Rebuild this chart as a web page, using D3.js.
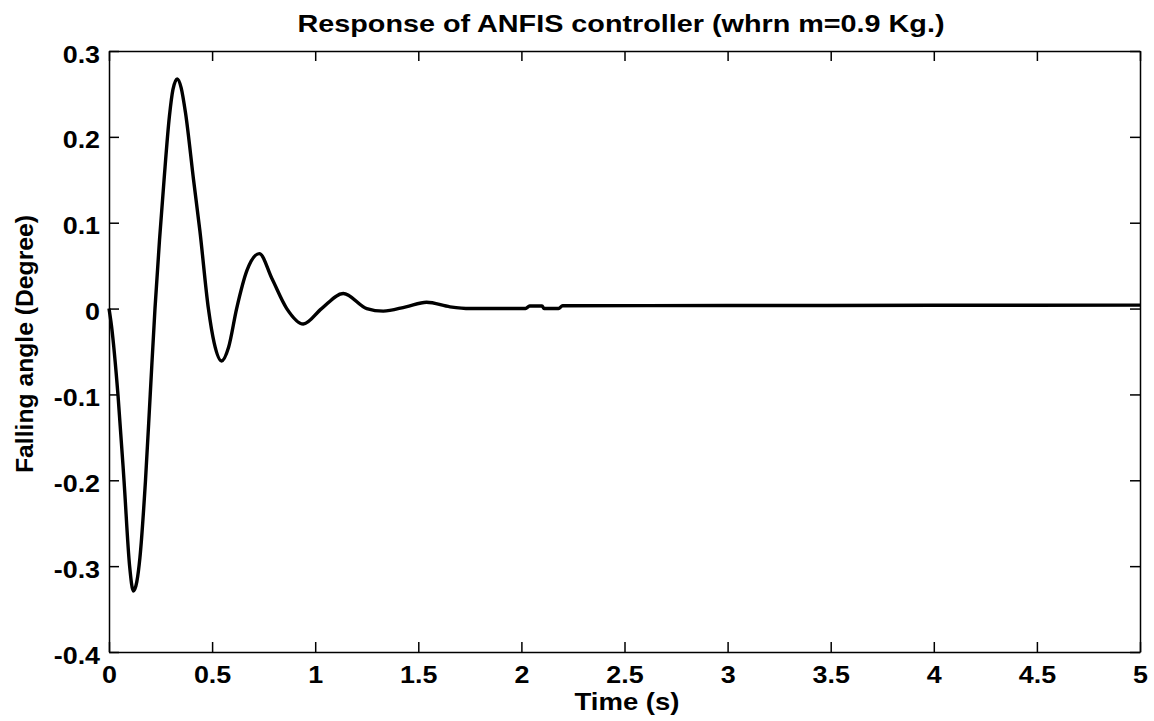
<!DOCTYPE html>
<html>
<head>
<meta charset="utf-8">
<script src="https://cdn.jsdelivr.net/npm/d3@7"></script>
<style>
    body { margin: 0; background: #fff; }
    svg { display: block; font-family: "Liberation Sans", Arial, sans-serif; font-weight: bold; }
</style>
</head>
<body>
<svg id="chart" width="1154" height="721"></svg>
<script>
// response
const timeS = [0, 0.012, 0.044, 0.073, 0.1, 0.118, 0.135, 0.15, 0.177, 0.2, 0.223, 0.245, 0.267, 0.293, 0.31, 0.331,
    0.35, 0.371, 0.41, 0.441, 0.482, 0.51, 0.546, 0.58, 0.619, 0.67, 0.729, 0.79, 0.862, 0.942, 1.031, 1.136, 1.25,
    1.33, 1.44, 1.54, 1.654, 1.75, 2.02, 2.04, 2.1, 2.11, 2.18, 2.2, 3, 4, 5];
const angleDeg = [0, -0.02, -0.102, -0.201, -0.3, -0.329, -0.318, -0.29, -0.2, -0.1, 0, 0.08, 0.15, 0.224, 0.255, 0.2675,
    0.257, 0.228, 0.15, 0.09, 0, -0.04, -0.061, -0.045, 0, 0.045, 0.064, 0.035, 0, -0.018, 0, 0.0175, 0,
    -0.003, 0.002, 0.0073, 0.002, 0, 0, 0.003, 0.003, 0, 0, 0.0033, 0.0035, 0.0038, 0.004];

const xTicks = [0, 0.5, 1, 1.5, 2, 2.5, 3, 3.5, 4, 4.5, 5];
const xTickLabels = ['0', '0.5', '1', '1.5', '2', '2.5', '3', '3.5', '4', '4.5', '5'];
const yTicks = [-0.4, -0.3, -0.2, -0.1, 0, 0.1, 0.2, 0.3];
const yTickLabels = ['-0.4', '-0.3', '-0.2', '-0.1', '0', '0.1', '0.2', '0.3'];

const margin = {top: 51, right: 14, bottom: 69, left: 109};
const width = 1154 - margin.left - margin.right,
    height = 721 - margin.top - margin.bottom;
const stretch = 1.12;   // the scan is a bit wider than tall

let svg = d3.select('#chart');
let g = svg.append('g').attr('transform', 'translate(' + margin.left + ',' + margin.top + ')');

let x = d3.scaleLinear().domain([0, 5]).range([0, width]);
let y = d3.scaleLinear().domain([-0.4, 0.3]).range([height, 0]);

// box with inward ticks on all four sides
function styleAxis(sel) {
    sel.selectAll('path, line').attr('stroke', '#000').attr('stroke-width', 1.5);
    sel.selectAll('text')
        .attr('fill', '#000')
        .style('font-size', '24px')
        .attr('transform', 'scale(' + stretch + ',1)');
}

g.append('g')
    .attr('transform', 'translate(0,' + height + ')')
    .call(d3.axisBottom(x).tickValues(xTicks).tickFormat((d, i) => xTickLabels[i])
        .tickSizeInner(-10).tickSizeOuter(0).tickPadding(14))
    .call(styleAxis);

g.append('g')
    .call(d3.axisLeft(y).tickValues(yTicks).tickFormat((d, i) => yTickLabels[i])
        .tickSizeInner(-10).tickSizeOuter(0).tickPadding(8))
    .call(styleAxis)
    .selectAll('text').attr('dy', '0.46em');

g.append('g')
    .call(d3.axisTop(x).tickValues(xTicks).tickFormat('').tickSizeInner(-10).tickSizeOuter(0))
    .call(styleAxis);

g.append('g')
    .attr('transform', 'translate(' + width + ',0)')
    .call(d3.axisRight(y).tickValues(yTicks).tickFormat('').tickSizeInner(-10).tickSizeOuter(0))
    .call(styleAxis);

// the response curve
let line = d3.line()
    .x((d, i) => x(timeS[i]))
    .y(d => y(d))
    .curve(d3.curveMonotoneX);

g.append('path')
    .datum(angleDeg)
    .attr('fill', 'none')
    .attr('stroke', '#000')
    .attr('stroke-width', 3.4)
    .attr('stroke-linejoin', 'round')
    .attr('d', line);

// labels
svg.append('text')
    .attr('x', 621).attr('y', 32)
    .attr('text-anchor', 'middle')
    .attr('textLength', 647).attr('lengthAdjust', 'spacingAndGlyphs')
    .style('font-size', '24px')
    .text('Response of ANFIS controller (whrn m=0.9 Kg.)');

svg.append('text')
    .attr('x', 627).attr('y', 710)
    .attr('text-anchor', 'middle')
    .attr('textLength', 105).attr('lengthAdjust', 'spacingAndGlyphs')
    .style('font-size', '24px')
    .text('Time (s)');

svg.append('text')
    .attr('transform', 'translate(33,344) rotate(-90)')
    .attr('text-anchor', 'middle')
    .attr('textLength', 258).attr('lengthAdjust', 'spacingAndGlyphs')
    .style('font-size', '23px')
    .text('Falling angle (Degree)');
</script>
</body>
</html>
